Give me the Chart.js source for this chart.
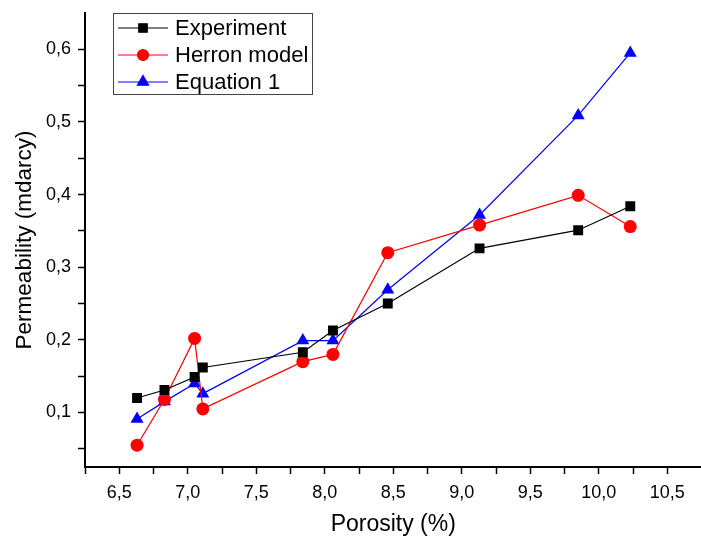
<!DOCTYPE html>
<html>
<head>
<meta charset="utf-8">
<script src="https://cdn.jsdelivr.net/npm/chart.js@4.4.1/dist/chart.umd.min.js"></script>
<style>
  html, body { margin: 0; padding: 0; background: #fff; overflow: hidden; }
  /* 8px wider than the window: chart.js keeps tick padding at the right edge,
     the original plot runs off the edge instead */
  #wrap { width: 709px; height: 540px; }
</style>
</head>
<body>
<div id="wrap"><canvas id="chart"></canvas></div>
<script>
// Porosity (%) and permeability (mdarcy)
const porosity  = [6.63, 6.83, 7.05, 7.11, 7.84, 8.06, 8.46, 9.13, 9.85, 10.23];
const experiment = [0.120, 0.131, 0.149, 0.162, 0.183, 0.213, 0.250, 0.326, 0.351, 0.384];
const herron     = [0.055, 0.118, 0.202, 0.105, 0.170, 0.180, 0.320, 0.358, 0.399, 0.356];
const equation1  = [0.091, 0.115, 0.140, 0.126, 0.199, 0.199, 0.269, 0.372, 0.509, 0.595];

const seriesNames = ['Experiment', 'Herron model', 'Equation 1'];

const xTicks = [6.25, 6.5, 6.75, 7.0, 7.25, 7.5, 7.75, 8.0, 8.25, 8.5, 8.75, 9.0, 9.25, 9.5, 9.75, 10.0, 10.25, 10.5];
const yTicks = [0.05, 0.1, 0.15, 0.2, 0.25, 0.3, 0.35, 0.4, 0.45, 0.5, 0.55, 0.6];
const xLabelStep = 0.5;
const yLabelStep = 0.1;

const FONT = '"Liberation Sans", Arial, sans-serif';

function pairs(ys) {
  return porosity.map((x, i) => ({ x: x, y: ys[i] }));
}

function commaLabel(v, step) {
  const k = v / step;
  if (Math.abs(k - Math.round(k)) > 1e-6) return '';
  return v.toFixed(1).replace('.', ',');
}

// no extra room for the end labels
function noEdgePadding(s) {
  s.paddingLeft = 0;
  s.paddingRight = 0;
  s.paddingTop = 0;
  s.paddingBottom = 0;
}

// legend drawn inside the plot, top left, like the original
const legendBox = {
  id: 'legendBox',
  afterDraw(chart) {
    const ctx = chart.ctx;
    const a = chart.chartArea;
    const x0 = a.left + 28, y0 = a.top;
    ctx.save();
    ctx.strokeStyle = '#444';
    ctx.lineWidth = 1;
    ctx.strokeRect(x0 + 0.5, y0 + 0.5, 199, 81);
    chart.data.datasets.forEach((ds, i) => {
      const cy = y0 + 15 + i * 27;
      ctx.strokeStyle = ds.borderColor;
      ctx.lineWidth = 1.2;
      ctx.beginPath();
      ctx.moveTo(x0 + 5, cy);
      ctx.lineTo(x0 + 55, cy);
      ctx.stroke();
      ctx.fillStyle = ds.backgroundColor;
      Chart.helpers.drawPoint(ctx, {
        pointStyle: ds.pointStyle,
        radius: ds.pointRadius - 1,
        rotation: 0,
        borderWidth: 1
      }, x0 + 30, cy);
      ctx.fillStyle = '#000';
      ctx.font = '22px ' + FONT;
      ctx.textAlign = 'left';
      ctx.textBaseline = 'middle';
      ctx.fillText(ds.label, x0 + 62, cy + 1);
    });
    ctx.restore();
  }
};

const ctx = document.getElementById('chart').getContext('2d');
new Chart(ctx, {
  type: 'scatter',
  data: {
    datasets: [
      {
        label: seriesNames[0],
        data: pairs(experiment),
        showLine: true,
        borderColor: '#000000',
        backgroundColor: '#000000',
        borderWidth: 1.2,
        pointStyle: 'rect',
        pointRadius: 7,
        pointBorderWidth: 0
      },
      {
        label: seriesNames[1],
        data: pairs(herron),
        showLine: true,
        borderColor: '#ff0000',
        backgroundColor: '#ff0000',
        borderWidth: 1.2,
        pointStyle: 'circle',
        pointRadius: 6.5,
        pointBorderWidth: 0
      },
      {
        label: seriesNames[2],
        data: pairs(equation1),
        showLine: true,
        borderColor: '#0000ff',
        backgroundColor: '#0000ff',
        borderWidth: 1.2,
        pointStyle: 'triangle',
        pointRadius: 7.5,
        pointBorderWidth: 0
      }
    ]
  },
  options: {
    responsive: true,
    maintainAspectRatio: false,
    animation: false,
    layout: { padding: { top: 13, right: 0, left: 0, bottom: 0 } },
    plugins: {
      legend: { display: false },
      tooltip: { enabled: false }
    },
    scales: {
      x: {
        type: 'linear',
        min: 6.25,
        max: 10.75,
        afterBuildTicks: s => { s.ticks = xTicks.map(v => ({ value: v })); },
        afterFit: s => { s.height = 73; noEdgePadding(s); },
        border: { display: true, color: '#000', width: 2 },
        grid: { drawOnChartArea: false, drawTicks: true, tickLength: 7, tickColor: '#000', tickWidth: 1.5 },
        ticks: {
          autoSkip: false,
          maxRotation: 0,
          color: '#000',
          padding: 8,
          font: { family: FONT, size: 18 },
          callback: v => commaLabel(v, xLabelStep)
        },
        title: {
          display: true,
          text: 'Porosity (%)',
          color: '#000',
          font: { family: FONT, size: 23 },
          padding: { top: 0, bottom: 2 }
        }
      },
      y: {
        type: 'linear',
        min: 0.025,
        max: 0.65,
        afterBuildTicks: s => { s.ticks = yTicks.map(v => ({ value: v })); },
        afterFit: s => { s.width = 85; noEdgePadding(s); },
        border: { display: true, color: '#000', width: 2 },
        grid: { drawOnChartArea: false, drawTicks: true, tickLength: 7, tickColor: '#000', tickWidth: 1.5 },
        ticks: {
          autoSkip: false,
          color: '#000',
          padding: 7,
          font: { family: FONT, size: 18 },
          callback: v => commaLabel(v, yLabelStep)
        },
        title: {
          display: true,
          text: 'Permeability (mdarcy)',
          color: '#000',
          font: { family: FONT, size: 22.5 },
          padding: { top: 11, bottom: 0 }
        }
      }
    }
  },
  plugins: [legendBox]
});
</script>
</body>
</html>
